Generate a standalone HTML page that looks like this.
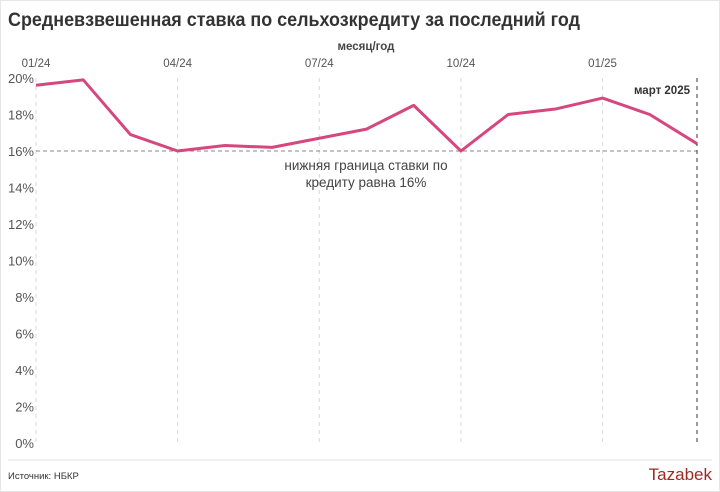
<!DOCTYPE html>
<html><head><meta charset="utf-8"><style>
html,body{margin:0;padding:0;background:#fff;}
body{width:720px;height:492px;overflow:hidden;font-family:"Liberation Sans","Noto Sans CJK SC",sans-serif;}
#wrap{position:absolute;left:0;top:0;width:718px;height:490px;border:1px solid #e6e6e6;}
</style></head><body>
<div id="wrap">
<svg id="chart" width="720" height="492" style="position:absolute;left:-1px;top:-1px">
<text x="8" y="26" font-size="19" font-weight="bold" fill="#333" textLength="572" lengthAdjust="spacingAndGlyphs">Средневзвешенная ставка по сельхозкредиту за последний год</text>
<text x="366" y="50" font-size="11.5" font-weight="bold" fill="#444" text-anchor="middle">месяц/год</text>
<g id="grid"></g><g id="xt"></g><g id="yt"></g>
<line x1="36" x2="697" y1="151" y2="151" stroke="#888" stroke-dasharray="4,3" stroke-width="1"/>
<text x="366" y="170" font-size="13.5" fill="#444" text-anchor="middle">нижняя граница ставки по</text>
<text x="366" y="187" font-size="13.5" fill="#444" text-anchor="middle">кредиту равна 16%</text>
<line x1="697" x2="697" y1="78" y2="443" stroke="#333" stroke-dasharray="4,4" stroke-width="1"/>
<text x="690" y="94" font-size="11.5" font-weight="bold" fill="#333" text-anchor="end">март 2025</text>
<path id="line" fill="none" stroke="#d6477f" stroke-width="3" stroke-linejoin="round"/>
<line x1="8" x2="712" y1="460" y2="460" stroke="#e2e2e2"/>
<text x="8" y="479" font-size="9.5" fill="#333">Источник: НБКР</text>
<text x="712" y="480" font-size="17" fill="#9b2a22" text-anchor="end">Tazabek</text>
</svg>
</div>
<script>
const months = ["01/24","02/24","03/24","04/24","05/24","06/24","07/24","08/24","09/24","10/24","11/24","12/24","01/25","02/25","03/25"];
const rates = [19.6,19.9,16.9,16.0,16.3,16.2,16.7,17.2,18.5,16.0,18.0,18.3,18.9,18.0,16.4];
const yTicks = [0,2,4,6,8,10,12,14,16,18,20];
const xTickIdx = [0,3,6,9,12];
const NS="http://www.w3.org/2000/svg";
const x=i=>36+i*(697-36)/(months.length-1);
const y=v=>443-v*(443-78)/20;
const grid=document.getElementById('grid'),xt=document.getElementById('xt'),yt=document.getElementById('yt');
xTickIdx.forEach(i=>{
  const l=document.createElementNS(NS,'line');
  l.setAttribute('x1',x(i));l.setAttribute('x2',x(i));l.setAttribute('y1',78);l.setAttribute('y2',443);
  l.setAttribute('stroke','#d8d8d8');l.setAttribute('stroke-dasharray','4,4');
  
  
  grid.appendChild(l);
  const t=document.createElementNS(NS,'text');
  t.setAttribute('x',x(i));t.setAttribute('y',67);t.setAttribute('font-size','11.5');t.setAttribute('fill','#555');t.setAttribute('text-anchor','middle');
  t.textContent=months[i];
  
  
  xt.appendChild(t);
});
yTicks.forEach(v=>{
  const t=document.createElementNS(NS,'text');
  t.setAttribute('x',34);t.setAttribute('y',y(v)+5);t.setAttribute('font-size','13');t.setAttribute('fill','#555');t.setAttribute('text-anchor','end');
  t.textContent=v+'%';
  
  
  yt.appendChild(t);
});
document.getElementById('line').setAttribute('d',rates.map((v,i)=>(i?'L':'M')+x(i)+','+y(v)).join(' '));
</script>
</body></html>
